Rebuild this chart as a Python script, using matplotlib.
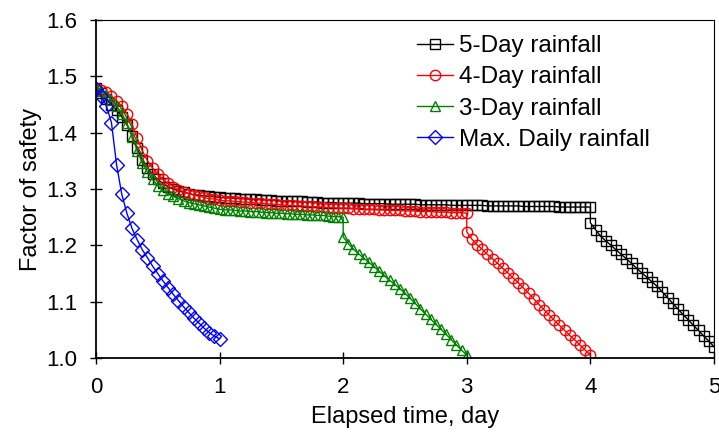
import numpy as np
import matplotlib.pyplot as plt

plt.rcParams['font.family'] = ['Liberation Sans', 'DejaVu Sans']

# factor of safety, read at hourly steps (24 per day)
# early phase, t = 0 .. 1 day (k = 0..24)
fs5_early = [1.479, 1.470, 1.460, 1.450, 1.440, 1.428, 1.414, 1.395, 1.372, 1.352,
             1.338, 1.326, 1.317, 1.310, 1.304, 1.300, 1.297, 1.294, 1.292, 1.290,
             1.289, 1.288, 1.287, 1.286, 1.285]
fs4_early = [1.479, 1.476, 1.472, 1.465, 1.457, 1.447, 1.434, 1.415, 1.390, 1.368,
             1.350, 1.337, 1.326, 1.317, 1.310, 1.304, 1.299, 1.295, 1.292, 1.289,
             1.287, 1.285, 1.283, 1.282, 1.280]
fs3_early = [1.479, 1.474, 1.467, 1.458, 1.447, 1.434, 1.417, 1.393, 1.368, 1.346,
             1.330, 1.317, 1.306, 1.298, 1.292, 1.287, 1.283, 1.279, 1.276, 1.274,
             1.272, 1.270, 1.268, 1.266, 1.264]

# plateau phase (k = 25 .. end of rain)
fs5_plateau = [1.2845, 1.284, 1.2835, 1.283, 1.2825, 1.282, 1.2815, 1.281, 1.2805, 1.280, 1.2795, 1.279,
               1.279, 1.278, 1.278, 1.278, 1.277, 1.277, 1.277, 1.276, 1.276, 1.276, 1.275, 1.275,
               1.275, 1.275, 1.275, 1.274, 1.274, 1.274, 1.274, 1.274, 1.273, 1.273, 1.273, 1.273,
               1.273, 1.273, 1.272, 1.272, 1.272, 1.272, 1.272, 1.272, 1.271, 1.271, 1.271, 1.271,
               1.271, 1.271, 1.271, 1.270, 1.270, 1.270, 1.270, 1.270, 1.270, 1.270, 1.269, 1.269,
               1.269, 1.269, 1.269, 1.269, 1.269, 1.268, 1.268, 1.268, 1.268, 1.268, 1.268, 1.268]
fs4_plateau = [1.279, 1.279, 1.278, 1.277, 1.277, 1.276, 1.275, 1.275, 1.274, 1.273, 1.273, 1.272,
               1.271, 1.271, 1.270, 1.270, 1.269, 1.269, 1.268, 1.268, 1.267, 1.267, 1.266, 1.266,
               1.266, 1.265, 1.265, 1.264, 1.264, 1.264, 1.263, 1.263, 1.262, 1.262, 1.262, 1.261,
               1.261, 1.261, 1.260, 1.260, 1.260, 1.259, 1.259, 1.259, 1.258, 1.258, 1.258, 1.257]
fs3_plateau = [1.263, 1.263, 1.262, 1.261, 1.261, 1.260, 1.260, 1.259, 1.258, 1.258, 1.257, 1.257,
               1.256, 1.256, 1.255, 1.255, 1.254, 1.254, 1.253, 1.253, 1.252, 1.251, 1.251, 1.250]

# drop after rain stops (25 hourly values over the last day)
fs5_drop = [1.240, 1.228, 1.216, 1.208, 1.200, 1.192, 1.184, 1.176, 1.168, 1.159,
            1.151, 1.143, 1.135, 1.127, 1.117, 1.107, 1.097, 1.087, 1.077, 1.068,
            1.058, 1.049, 1.039, 1.030, 1.020]
fs4_drop = [1.224, 1.211, 1.201, 1.193, 1.184, 1.176, 1.168, 1.159, 1.151, 1.142,
            1.134, 1.124, 1.115, 1.105, 1.095, 1.086, 1.076, 1.067, 1.058, 1.049,
            1.040, 1.032, 1.023, 1.014, 1.005]
fs3_drop = [1.215, 1.203, 1.193, 1.185, 1.177, 1.170, 1.162, 1.154, 1.146, 1.138,
            1.131, 1.123, 1.115, 1.106, 1.097, 1.087, 1.078, 1.069, 1.060, 1.051,
            1.042, 1.032, 1.023, 1.014, 1.005]

fs_max_daily = [1.478, 1.465, 1.448, 1.418, 1.343, 1.291, 1.257, 1.230, 1.210, 1.192,
                1.178, 1.163, 1.150, 1.137, 1.125, 1.113, 1.102, 1.091, 1.081, 1.071,
                1.062, 1.053, 1.045, 1.039, 1.034]

labels = ['5-Day rainfall', '4-Day rainfall', '3-Day rainfall', 'Max. Daily rainfall']


def series(early, plateau, drop, rain_end):
    vals = early + plateau
    t = np.arange(len(vals)) / 24.0
    t_drop = rain_end + np.arange(len(drop)) / 24.0
    return np.concatenate([t, t_drop]), np.array(vals + drop)


t5, y5 = series(fs5_early, fs5_plateau, fs5_drop, 4)
t4, y4 = series(fs4_early, fs4_plateau, fs4_drop, 3)
t3, y3 = series(fs3_early, fs3_plateau, fs3_drop, 2)
t1 = np.arange(len(fs_max_daily)) / 24.0

fig = plt.figure(figsize=(7.19, 4.38), dpi=100)
ax = fig.add_axes([0.1335, 0.1826, 0.8595, 0.7717])

ax.plot(t5, y5, color='black', lw=1, marker='s', ms=6.5, mfc='none', mew=1, label=labels[0])
ax.plot(t4, y4, color='red', lw=1, marker='o', ms=7.5, mfc='none', mew=1, label=labels[1])
ax.plot(t3, y3, color='green', lw=1, marker='^', ms=7.5, mfc='none', mew=1, label=labels[2])
ax.plot(t1, fs_max_daily, color='blue', lw=1, marker='D', ms=7, mfc='none', mew=1, label=labels[3])

ax.set_xlim(0, 5)
ax.set_ylim(1.0, 1.6)
ax.set_xticks(range(6))
ax.set_yticks(np.arange(1.0, 1.61, 0.1))
ax.set_yticklabels(['%.1f' % v for v in np.arange(1.0, 1.61, 0.1)])
ax.tick_params(direction='inout', length=9, width=1, labelsize=16)
ax.tick_params(axis='y', pad=9)
ax.tick_params(axis='x', pad=9)

for s in ['left', 'bottom']:
    ax.spines[s].set_linewidth(1.3)
for s in ['top', 'right']:
    ax.spines[s].set_linewidth(0.8)

ax.set_xlabel('Elapsed time, day', fontsize=17, labelpad=6)
ax.set_ylabel('Factor of safety', fontsize=17, labelpad=3)

ax.legend(loc='upper left', bbox_to_anchor=(0.52, 0.955), frameon=False, fontsize=17.5,
          borderpad=0, handlelength=1.45, handletextpad=0.25, labelspacing=0.38,
          borderaxespad=0)

fig.savefig('out.png', dpi=100)
